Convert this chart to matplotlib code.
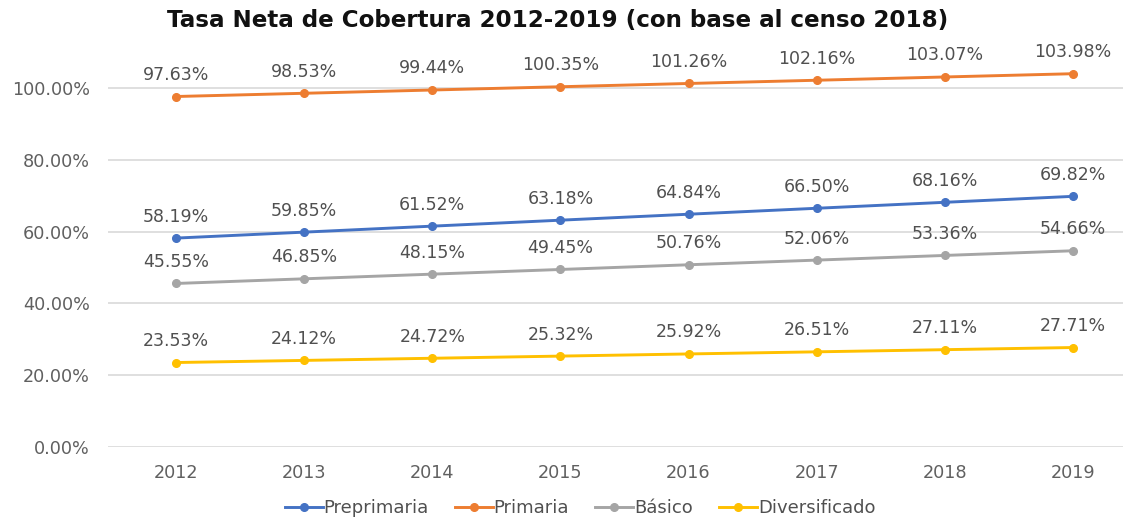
import matplotlib
matplotlib.use("Agg")
import matplotlib.pyplot as plt
from matplotlib.ticker import FuncFormatter

plt.rcParams['font.family'] = ['DejaVu Sans']

years = [2012, 2013, 2014, 2015, 2016, 2017, 2018, 2019]
preprimaria = [58.19, 59.85, 61.52, 63.18, 64.84, 66.50, 68.16, 69.82]
primaria = [97.63, 98.53, 99.44, 100.35, 101.26, 102.16, 103.07, 103.98]
basico = [45.55, 46.85, 48.15, 49.45, 50.76, 52.06, 53.36, 54.66]
diversificado = [23.53, 24.12, 24.72, 25.32, 25.92, 26.51, 27.11, 27.71]
series_names = ["Preprimaria", "Primaria", "Básico", "Diversificado"]
colors = ["#4472C4", "#ED7D31", "#A5A5A5", "#FFC000"]
title = "Tasa Neta de Cobertura 2012-2019 (con base al censo 2018)"

W, H = 1123, 518
fig = plt.figure(figsize=(W / 100, H / 100), dpi=100)
left_px, right_px, top_px, bot_px = 108, 1123, 58, 447
ax = fig.add_axes([left_px / W, 1 - bot_px / H, (right_px - left_px) / W, (bot_px - top_px) / H])

first_px, sp = 176, 128.14
ax.set_xlim(2012 - (first_px - left_px) / sp, 2012 + (right_px - first_px) / sp)
pxper = (447 - 88) / 100.0
ax.set_ylim(0, (bot_px - top_px) / pxper)

for name, vals, c in zip(series_names, [preprimaria, primaria, basico, diversificado], colors):
    ax.plot(years, vals, color=c, lw=2.1, marker='o', ms=5.5, label=name, zorder=3)
    for x, v in zip(years, vals):
        ax.annotate(f"{v:.2f}%", (x, v), xytext=(0, 15.5), textcoords='offset points',
                    ha='center', va='center', fontsize=12.5, color='#505050')

ax.set_yticks([0, 20, 40, 60, 80, 100])
ax.yaxis.set_major_formatter(FuncFormatter(lambda v, p: f"{v:.2f}%"))
ax.set_xticks(years)
ax.grid(axis='y', color='#D9D9D9', lw=1.2)
ax.set_axisbelow(True)
for s in ax.spines.values():
    s.set_visible(False)
ax.tick_params(length=0, labelsize=12.7, labelcolor='#606060')
ax.tick_params(axis='y', pad=13)
ax.tick_params(axis='x', pad=12)

fig.text(558 / W, 1 - 20 / H, title, ha='center', va='center', fontsize=16.6, fontweight='bold', color='#111111')
fig.legend(loc='center', bbox_to_anchor=(580 / W, 1 - 508 / H), ncol=4, frameon=False,
           fontsize=13, labelcolor='#505050', handlelength=2.1, columnspacing=1.45, handletextpad=0.05)

fig.savefig("out.png", dpi=100)
